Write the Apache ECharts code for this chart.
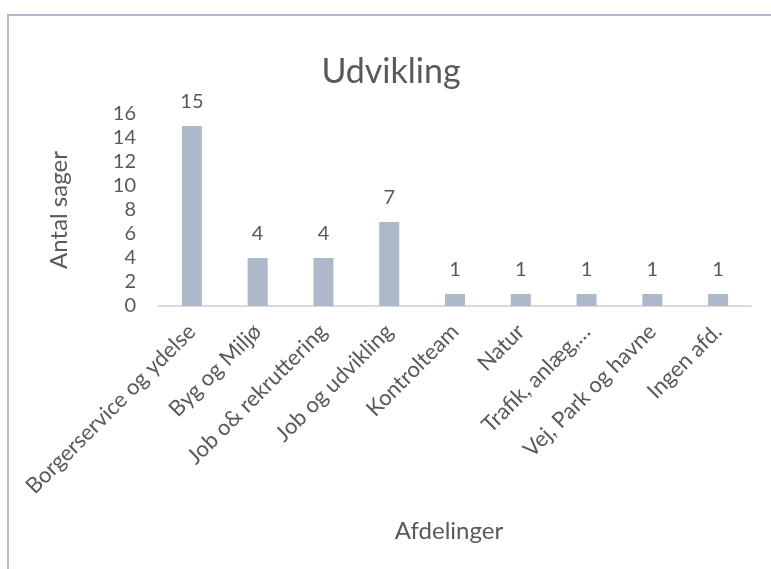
<!DOCTYPE html>
<html>
<head>
<meta charset="utf-8">
<script src="https://cdn.jsdelivr.net/npm/echarts@6/dist/echarts.min.js"></script>
<style>
  html, body { margin: 0; padding: 0; background: #fff; }
  #chart { width: 771px; height: 569px; }
</style>
</head>
<body>
<div id="chart"></div>
<script>
const categories = [
    'Borgerservice og ydelse',
    'Byg og Miljø',
    'Job o& rekruttering',
    'Job og udvikling',
    'Kontrolteam',
    'Natur',
    'Trafik, anlæg,…',
    'Vej, Park og havne',
    'Ingen afd.'
];
const values = [15, 4, 4, 7, 1, 1, 1, 1, 1];
const yTicks = { min: 0, max: 16, interval: 2 };

const textColor = '#595959';
const fontFamily = 'Lato, "Open Sans", sans-serif';

const chart = echarts.init(document.getElementById('chart'), null, { renderer: 'canvas' });

const option = {
    backgroundColor: '#fff',
    animation: false,
    title: {
        text: 'Udvikling',
        left: 386,
        top: 50,
        textAlign: 'center',
        textStyle: { color: textColor, fontFamily, fontSize: 34, fontWeight: 'normal' }
    },
    graphic: [{
        type: 'polyline',
        shape: { points: [[8, 569], [8, 15], [771, 15]] },
        style: { stroke: '#afbad0', lineWidth: 2, fill: null },
        silent: true
    }],
    grid: { left: 159, right: 20, top: 114, bottom: 263 },
    xAxis: {
        type: 'category',
        data: categories,
        name: 'Afdelinger',
        nameLocation: 'middle',
        nameGap: 213,
        nameTextStyle: { color: textColor, fontFamily, fontSize: 24, padding: [0, 12, 0, 0] },
        axisLine: { lineStyle: { color: '#d9d9d9', width: 2 } },
        axisTick: { show: false },
        axisLabel: {
            interval: 0,
            rotate: 45,
            margin: 22,
            color: textColor,
            fontFamily,
            fontSize: 22
        }
    },
    yAxis: {
        type: 'value',
        min: yTicks.min,
        max: yTicks.max,
        interval: yTicks.interval,
        name: 'Antal sager',
        nameLocation: 'middle',
        nameGap: 88,
        nameTextStyle: { color: textColor, fontFamily, fontSize: 24 },
        axisLine: { show: false },
        axisTick: { show: false },
        splitLine: { show: false },
        axisLabel: { margin: 23, color: textColor, fontFamily, fontSize: 20 }
    },
    series: [{
        type: 'bar',
        data: values,
        barWidth: 20,
        itemStyle: { color: '#adb9ca' },
        label: {
            show: true,
            position: 'top',
            distance: 14,
            color: textColor,
            fontFamily,
            fontSize: 20
        }
    }]
};

chart.setOption(option);
</script>
</body>
</html>
